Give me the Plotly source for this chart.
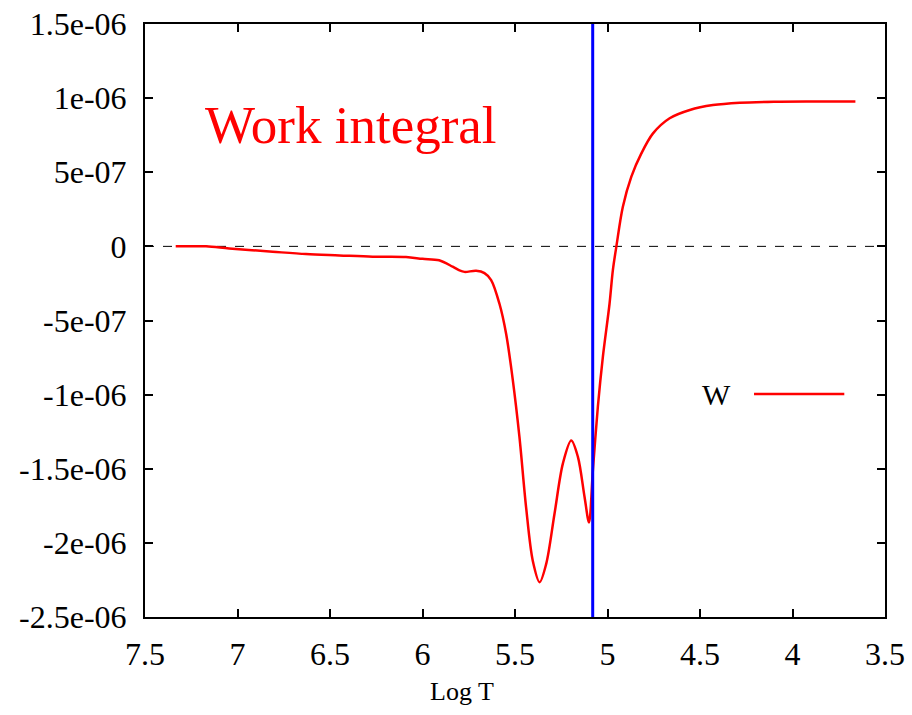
import plotly.graph_objects as go

# Data
log_t = [7.334, 7.17, 7.045, 6.81, 6.63, 6.45, 6.27, 6.089, 6.0, 5.91, 5.837, 5.80,
         5.773, 5.71, 5.665, 5.629, 5.584, 5.548, 5.512, 5.476, 5.44, 5.404, 5.367,
         5.331, 5.286, 5.241, 5.196, 5.16, 5.124, 5.10, 5.079, 5.052, 5.025, 4.989,
         4.971, 4.952, 4.917, 4.871, 4.817, 4.754, 4.664, 4.555, 4.43, 4.285, 4.1,
         3.9, 3.66]
work = [0.0, 0.0, -1.4e-8, -3.6e-8, -5.2e-8, -6.1e-8, -7.0e-8, -7.2e-8, -8.4e-8,
        -9.4e-8, -1.37e-7, -1.62e-7, -1.72e-7, -1.65e-7, -1.80e-7, -2.27e-7,
        -3.87e-7, -5.89e-7, -9.0e-7, -1.285e-6, -1.76e-6, -2.12e-6, -2.265e-6,
        -2.14e-6, -1.80e-6, -1.464e-6, -1.31e-6, -1.42e-6, -1.69e-6, -1.862e-6,
        -1.51e-6, -1.08e-6, -7.45e-7, -3.87e-7, -1.6e-7, 0.0, 2.67e-7, 4.70e-7,
        6.27e-7, 7.62e-7, 8.64e-7, 9.2e-7, 9.53e-7, 9.69e-7, 9.76e-7, 9.78e-7, 9.78e-7]
marker_logt = 5.08
x_ticks = [7.5, 7, 6.5, 6, 5.5, 5, 4.5, 4, 3.5]
x_ticktext = ["7.5", "7", "6.5", "6", "5.5", "5", "4.5", "4", "3.5"]
y_ticks = [1.5e-6, 1e-6, 5e-7, 0, -5e-7, -1e-6, -1.5e-6, -2e-6, -2.5e-6]
y_ticktext = ["1.5e-06", "1e-06", "5e-07", "0", "-5e-07", "-1e-06", "-1.5e-06", "-2e-06", "-2.5e-06"]
x_range = [7.5, 3.5]
y_range = [-2.5e-6, 1.5e-6]

FONT = "Liberation Serif"

fig = go.Figure()
fig.add_trace(go.Scatter(x=log_t, y=work, mode="lines", name="W",
                         line=dict(color="#ff0000", width=2.5, shape="spline", smoothing=0.9),
                         showlegend=False))
fig.add_trace(go.Scatter(x=[marker_logt, marker_logt], y=y_range, mode="lines",
                         line=dict(color="#0000ff", width=3), showlegend=False))

# zero dashed line
fig.add_shape(type="line", xref="paper", x0=0, x1=1, yref="y", y0=0, y1=0,
              line=dict(color="black", width=1, dash="dash"), layer="below")

# legend key (text left of line, gnuplot style)
fig.add_annotation(xref="paper", yref="paper", x=0.795, y=0.376, text="W",
                   showarrow=False, xanchor="right", yanchor="middle",
                   font=dict(family=FONT, size=30, color="black"))
fig.add_shape(type="line", xref="paper", yref="paper", x0=0.823, x1=0.945,
              y0=0.376, y1=0.376, line=dict(color="#ff0000", width=2.5))

# title text
fig.add_annotation(xref="paper", yref="paper", x=0.078, y=0.83, text="Work integral",
                   showarrow=False, xanchor="left", yanchor="middle",
                   font=dict(family=FONT, size=53, color="#ff0000"))

# x-axis label (placed off-centre as in reference)
fig.add_annotation(xref="paper", yref="paper", x=0.428, y=-0.125, text="Log T",
                   showarrow=False, xanchor="center", yanchor="middle",
                   font=dict(family=FONT, size=26, color="black"))

axis_common = dict(showline=True, linecolor="black", linewidth=2, mirror="ticks",
                   ticks="inside", ticklen=8, tickwidth=1.5, tickcolor="black",
                   showgrid=False, zeroline=False, automargin=False,
                   tickfont=dict(family=FONT, size=32, color="black"))

fig.update_xaxes(range=x_range, tickvals=x_ticks, ticktext=x_ticktext,
                 ticklabelstandoff=8, **axis_common)
fig.update_yaxes(range=y_range, tickvals=y_ticks, ticktext=y_ticktext,
                 ticklabelstandoff=10, **axis_common)

fig.update_layout(width=912, height=715, plot_bgcolor="white", paper_bgcolor="white",
                  margin=dict(l=145, r=27, t=24, b=98), showlegend=False)

fig.write_html("out.html")
